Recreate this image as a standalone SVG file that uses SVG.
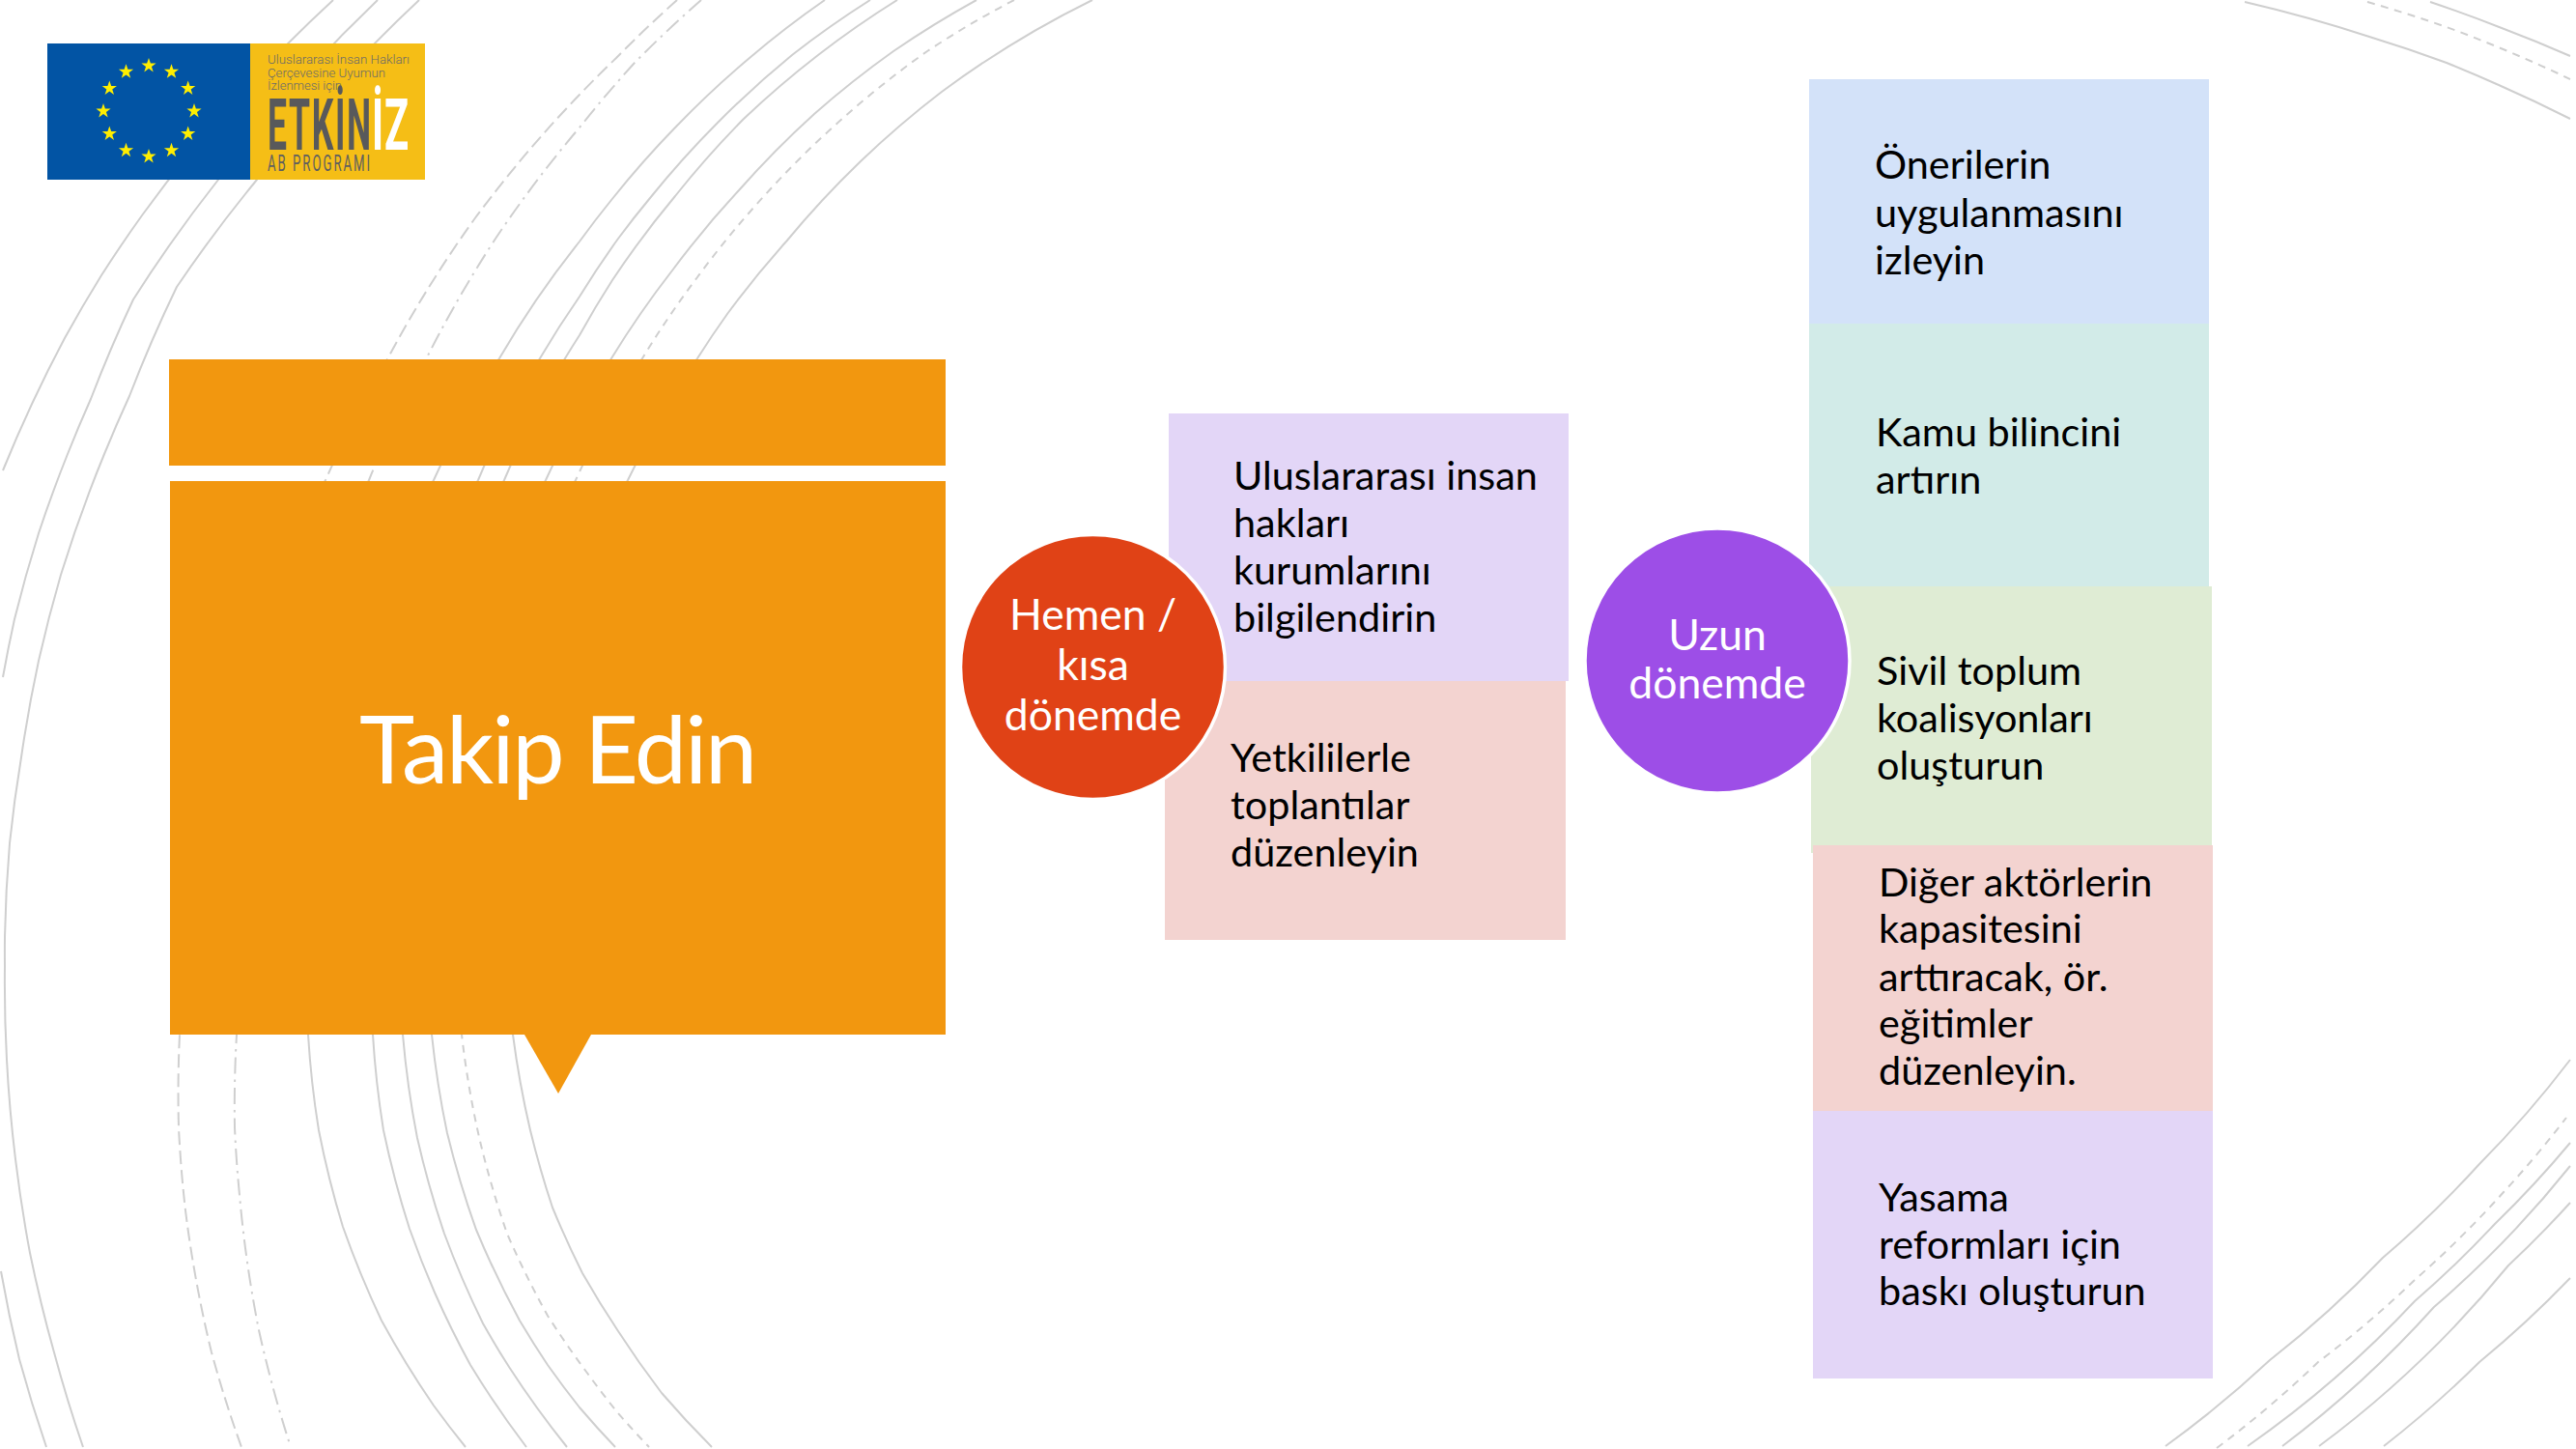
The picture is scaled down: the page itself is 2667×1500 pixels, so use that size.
<svg xmlns="http://www.w3.org/2000/svg" width="2667" height="1500" viewBox="0 0 2667 1500">
<defs>
<style>
.arc{fill:none;stroke:#cfcfcf;stroke-width:2}
.d1{stroke-dasharray:14 6}
.d2{stroke-dasharray:17 6 2.5 6}
.d3{stroke-dasharray:8 6.5}
text{font-family:"Lato","Liberation Sans",sans-serif}
.body{font-size:41.4px;fill:#000}
.circ{font-size:44.5px;fill:#fff;text-anchor:middle}
.title{font-size:97px;fill:#fff;text-anchor:middle;letter-spacing:-2.2px}
.lavender{fill:#e3d6f7}.pink{fill:#f3d3d0}.blue{fill:#d3e2f9}.teal{fill:#d2ebe8}.green{fill:#dfecd4}
.orange{fill:#f2970f}
.ring{stroke:#fff;stroke-width:3.5}
.logosmall{font-family:"Roboto",sans-serif;font-weight:300;font-size:13.5px;fill:#6a6a6a}
.logobig{font-family:"Roboto",sans-serif;font-weight:700;font-size:74px}
.logoab{font-family:"Roboto",sans-serif;font-weight:400;font-size:24px;fill:#5f5f5f}
</style>
<polygon id="star" fill="#ffee00" points="0,-8 1.88,-2.47 7.61,-2.47 2.98,0.94 4.7,6.47 0,3.09 -4.7,6.47 -2.98,0.94 -7.61,-2.47 -1.88,-2.47"/>
</defs>
<rect width="2667" height="1500" fill="#fff"/>
<g id="background-arcs">
<path class="arc" d="M345 0A1480 1480 0 0 0 147 223A1480 1480 0 0 0 105 285A1480 1480 0 0 0 67 350A1480 1480 0 0 0 3 487"/>
<path class="arc" d="M391 0A1480 1480 0 0 0 226 186A1480 1480 0 0 0 138 310A1480 1480 0 0 0 94 413A1480 1480 0 0 0 70 470A1480 1480 0 0 0 40 552A1480 1480 0 0 0 15 641A1480 1480 0 0 0 3 701"/>
<path class="arc" d="M434 0A1480 1480 0 0 0 266 186A1480 1480 0 0 0 183 297A1480 1480 0 0 0 134 410A1480 1480 0 0 0 108 470A1480 1480 0 0 0 63 595A1480 1480 0 0 0 40 684A1480 1480 0 0 0 22 784A1480 1480 0 0 0 10 873A1480 1480 0 0 0 5 970A1480 1480 0 0 0 5 1000A1480 1480 0 0 0 7 1097A1480 1480 0 0 0 16 1200A1480 1480 0 0 0 31 1297A1480 1480 0 0 0 56 1400A1480 1480 0 0 0 86 1498"/>
<path class="arc" d="M1 1316A1480 1480 0 0 0 20 1407A1480 1480 0 0 0 48 1498"/>
<path class="arc d1" d="M701 0A1300 1300 0 0 0 638 60A1300 1300 0 0 0 600 98A1300 1300 0 0 0 491 227A1300 1300 0 0 0 402 370A1300 1300 0 0 0 337 497A1300 1300 0 0 0 186 1071A1300 1300 0 0 0 185 1167A1300 1300 0 0 0 192 1253A1300 1300 0 0 0 219 1400A1300 1300 0 0 0 250 1498"/>
<path class="arc d2" d="M726 0A1300 1300 0 0 0 657 65A1300 1300 0 0 0 600 132A1300 1300 0 0 0 513 247A1300 1300 0 0 0 442 370A1300 1300 0 0 0 382 497A1300 1300 0 0 0 245 1071A1300 1300 0 0 0 243 1167A1300 1300 0 0 0 248 1237A1300 1300 0 0 0 268 1377A1300 1300 0 0 0 301 1498"/>
<path class="arc" d="M854 0A1000 1000 0 0 0 776 60A1000 1000 0 0 0 701 130A1000 1000 0 0 0 633 207A1000 1000 0 0 0 600 250A1000 1000 0 0 0 517 371A1000 1000 0 0 0 449 497A1000 1000 0 0 0 319 1071A1000 1000 0 0 0 330 1170A1000 1000 0 0 0 355 1270A1000 1000 0 0 0 395 1367A1000 1000 0 0 0 449 1455A1000 1000 0 0 0 482 1498"/>
<path class="arc" d="M901 0A1000 1000 0 0 0 820 57A1000 1000 0 0 0 743 127A1000 1000 0 0 0 673 205A1000 1000 0 0 0 640 247A1000 1000 0 0 0 600 307A1000 1000 0 0 0 559 371A1000 1000 0 0 0 495 497A1000 1000 0 0 0 386 1071A1000 1000 0 0 0 397 1170A1000 1000 0 0 0 424 1272A1000 1000 0 0 0 450 1338A1000 1000 0 0 0 487 1413A1000 1000 0 0 0 545 1498"/>
<path class="arc" d="M929 0A1000 1000 0 0 0 847 57A1000 1000 0 0 0 770 123A1000 1000 0 0 0 699 203A1000 1000 0 0 0 634 290A1000 1000 0 0 0 600 347A1000 1000 0 0 0 585 371A1000 1000 0 0 0 522 497A1000 1000 0 0 0 417 1071A1000 1000 0 0 0 432 1178A1000 1000 0 0 0 460 1277A1000 1000 0 0 0 500 1370A1000 1000 0 0 0 527 1415A1000 1000 0 0 0 587 1498"/>
<path class="arc" d="M1011 0A1000 1000 0 0 0 925 53A1000 1000 0 0 0 843 118A1000 1000 0 0 0 765 197A1000 1000 0 0 0 696 280A1000 1000 0 0 0 633 371A1000 1000 0 0 0 565 497A1000 1000 0 0 0 447 1071A1000 1000 0 0 0 463 1173A1000 1000 0 0 0 493 1273A1000 1000 0 0 0 538 1367A1000 1000 0 0 0 567 1413A1000 1000 0 0 0 600 1457A1000 1000 0 0 0 637 1498"/>
<path class="arc d3" d="M1050 0A1000 1000 0 0 0 960 53A1000 1000 0 0 0 872 123A1000 1000 0 0 0 791 203A1000 1000 0 0 0 722 287A1000 1000 0 0 0 665 371A1000 1000 0 0 0 596 497A1000 1000 0 0 0 478 1071A1000 1000 0 0 0 496 1177A1000 1000 0 0 0 525 1277A1000 1000 0 0 0 567 1362A1000 1000 0 0 0 607 1420A1000 1000 0 0 0 640 1463A1000 1000 0 0 0 672 1498"/>
<path class="arc" d="M1131 0A1000 1000 0 0 0 975 95A1000 1000 0 0 0 891 167A1000 1000 0 0 0 814 250A1000 1000 0 0 0 753 325A1000 1000 0 0 0 722 371A1000 1000 0 0 0 650 497A1000 1000 0 0 0 531 1071A1000 1000 0 0 0 549 1170A1000 1000 0 0 0 572 1250A1000 1000 0 0 0 603 1318A1000 1000 0 0 0 640 1378A1000 1000 0 0 0 685 1442A1000 1000 0 0 0 737 1498"/>
<path class="arc" d="M2324 2A1500 1500 0 0 1 2453 38A1500 1500 0 0 1 2533 65A1500 1500 0 0 1 2587 88A1500 1500 0 0 1 2661 123"/>
<path class="arc d3" d="M2451 2A1500 1500 0 0 1 2533 28A1500 1500 0 0 1 2661 82"/>
<path class="arc" d="M2516 2A1500 1500 0 0 1 2590 29A1500 1500 0 0 1 2661 58"/>
<path class="arc" d="M2242 1497A1100 1100 0 0 0 2350 1408A1100 1100 0 0 0 2467 1302A1100 1100 0 0 0 2567 1205A1100 1100 0 0 0 2661 1097"/>
<path class="arc d3" d="M2295 1499A1100 1100 0 0 0 2400 1410A1100 1100 0 0 0 2500 1325A1100 1100 0 0 0 2593 1233A1100 1100 0 0 0 2657 1157"/>
<path class="arc" d="M2327 1497A1100 1100 0 0 0 2500 1347A1100 1100 0 0 0 2583 1267A1100 1100 0 0 0 2661 1183"/>
<path class="arc" d="M2363 1497A1100 1100 0 0 0 2520 1353A1100 1100 0 0 0 2661 1207"/>
<path class="arc" d="M2401 1497A1100 1100 0 0 0 2597 1310A1100 1100 0 0 0 2661 1245"/>
<path class="arc" d="M2468 1497A1100 1100 0 0 0 2567 1410A1100 1100 0 0 0 2661 1323"/>
</g>
<g id="logo">
<rect x="49" y="45" width="210" height="141" fill="#0254a4"/>
<rect x="259" y="45" width="181" height="141" fill="#f5be16"/>
<use href="#star" x="154" y="68"/><use href="#star" x="177.5" y="74.3"/><use href="#star" x="194.7" y="91.5"/><use href="#star" x="201" y="115"/><use href="#star" x="194.7" y="138.5"/><use href="#star" x="177.5" y="155.7"/><use href="#star" x="154" y="162"/><use href="#star" x="130.5" y="155.7"/><use href="#star" x="113.3" y="138.5"/><use href="#star" x="107" y="115"/><use href="#star" x="113.3" y="91.5"/><use href="#star" x="130.5" y="74.3"/>
<text class="logosmall" x="277" y="66" textLength="147" lengthAdjust="spacingAndGlyphs">Uluslararası İnsan Hakları</text>
<text class="logosmall" x="277" y="80" textLength="122" lengthAdjust="spacingAndGlyphs">Çerçevesine Uyumun</text>
<text class="logosmall" x="277" y="93" textLength="77" lengthAdjust="spacingAndGlyphs">İzlenmesi için</text>
<text class="logobig" transform="translate(277 155) scale(0.48 1)" fill="#58595b" textLength="223" lengthAdjust="spacing">ETKİN</text>
<text class="logobig" transform="translate(385 155) scale(0.56 1)" fill="#fff" textLength="68" lengthAdjust="spacing">İZ</text>
<text class="logoab" transform="translate(277 177) scale(0.55 1)" textLength="193" lengthAdjust="spacing">AB PROGRAMI</text>
</g>
<g id="title-bar"><rect class="orange" x="175" y="372" width="804" height="110"/></g>
<g id="title-box">
<rect class="orange" x="176" y="498" width="803" height="573"/>
<polygon class="orange" points="543,1071 612,1071 578,1132"/>
<text class="title" x="577" y="811">Takip Edin</text>
</g>
<g id="node-uluslararasi">
<rect class="lavender" x="1210" y="428" width="414" height="277"/>
<text class="body" x="1277" y="507">Uluslararası insan</text><text class="body" x="1277" y="556">hakları</text><text class="body" x="1277" y="605">kurumlarını</text><text class="body" x="1277" y="654">bilgilendirin</text>
</g>
<g id="node-yetkililerle">
<rect class="pink" x="1206" y="705" width="415" height="268"/>
<text class="body" x="1274" y="799">Yetkililerle</text><text class="body" x="1274" y="848">toplantılar</text><text class="body" x="1274" y="897">düzenleyin</text>
</g>
<g id="node-onerilerin">
<rect class="blue" x="1873" y="82" width="414" height="256"/>
<text class="body" x="1941" y="185">Önerilerin</text><text class="body" x="1941" y="235">uygulanmasını</text><text class="body" x="1941" y="284">izleyin</text>
</g>
<g id="node-kamu">
<rect class="teal" x="1873" y="335" width="414" height="275"/>
<text class="body" x="1942" y="462">Kamu bilincini</text><text class="body" x="1942" y="511">artırın</text>
</g>
<g id="node-sivil">
<rect class="green" x="1875" y="607" width="415" height="276"/>
<text class="body" x="1943" y="709">Sivil toplum</text><text class="body" x="1943" y="758">koalisyonları</text><text class="body" x="1943" y="807">oluşturun</text>
</g>
<g id="node-diger">
<rect class="pink" x="1877" y="875" width="414" height="275"/>
<text class="body" x="1945" y="928">Diğer aktörlerin</text><text class="body" x="1945" y="976">kapasitesini</text><text class="body" x="1945" y="1026">arttıracak, ör.</text><text class="body" x="1945" y="1074">eğitimler</text><text class="body" x="1945" y="1123">düzenleyin.</text>
</g>
<g id="node-yasama">
<rect class="lavender" x="1877" y="1150" width="414" height="277"/>
<text class="body" x="1945" y="1254">Yasama</text><text class="body" x="1945" y="1303">reformları için</text><text class="body" x="1945" y="1351">baskı oluşturun</text>
</g>
<g id="node-hemen">
<circle class="ring" cx="1131.5" cy="690.5" r="137" fill="#e04216"/>
<text class="circ" x="1131.5" y="652">Hemen /</text><text class="circ" x="1131.5" y="704">kısa</text><text class="circ" x="1131.5" y="756">dönemde</text>
</g>
<g id="node-uzun">
<circle class="ring" cx="1778" cy="684" r="137" fill="#9d4ee7"/>
<text class="circ" x="1778" y="673">Uzun</text><text class="circ" x="1778" y="723">dönemde</text>
</g>
</svg>
